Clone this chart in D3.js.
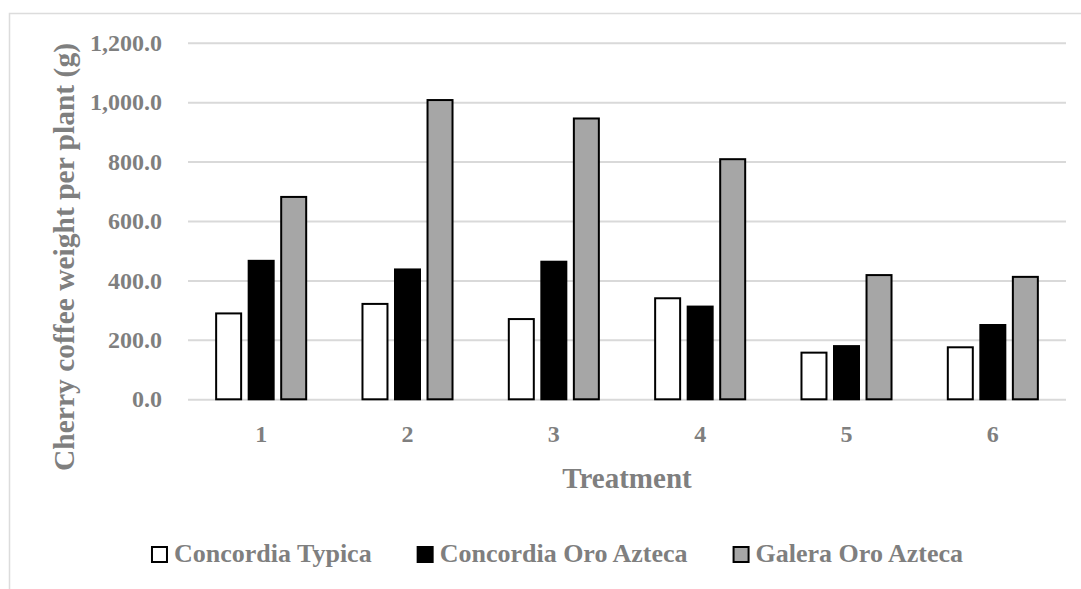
<!DOCTYPE html>
<html>
<head>
<meta charset="utf-8">
<script src="https://cdn.jsdelivr.net/npm/d3@7"></script>
<style>
  html, body { margin: 0; padding: 0; background: #fff; }
  svg { display: block; }
  text { font-family: "Liberation Serif", "Times New Roman", serif; font-weight: bold; fill: #7f7f7f; }
</style>
</head>
<body>
<svg id="chart" width="1081" height="589"></svg>
<script>
// Cherry coffee weight per plant (g) by treatment
const treatments = ["1", "2", "3", "4", "5", "6"];
const seriesNames = ["Concordia Typica", "Concordia Oro Azteca", "Galera Oro Azteca"];
const concordiaTypica = [289, 321, 270, 340, 157, 175];
const concordiaOroAzteca = [466, 437, 463, 312, 179, 250];
const galeraOroAzteca = [681, 1007, 945, 808, 418, 412];
const yTicks = [0, 200, 400, 600, 800, 1000, 1200];
const seriesFills = ["#ffffff", "#000000", "#a6a6a6"];

const seriesValues = [concordiaTypica, concordiaOroAzteca, galeraOroAzteca];

const svg = d3.select("#chart");
const W = 1081, H = 589;
const plot = { left: 188, right: 1066, top: 42.7, bottom: 399.3 };

// outer chart-area frame (runs past the right and bottom edges)
svg.append("rect")
  .attr("x", 9.5).attr("y", 13.5)
  .attr("width", W + 20).attr("height", H + 20)
  .attr("fill", "none").attr("stroke", "#dcdcdc").attr("stroke-width", 1.5);

const x0 = d3.scaleBand()
  .domain(treatments)
  .range([plot.left, plot.right])
  .paddingInner(0.371)
  .paddingOuter(0.1855);

const x1 = d3.scaleBand()
  .domain(d3.range(seriesNames.length))
  .range([0, x0.bandwidth()])
  .paddingInner(0.17)
  .paddingOuter(0);

const y = d3.scaleLinear().domain([0, 1200]).range([plot.bottom, plot.top]);

// gridlines and tick labels
const yAxis = d3.axisLeft(y)
  .tickValues(yTicks)
  .tickSize(-(plot.right - plot.left))
  .tickPadding(26)
  .tickFormat(d3.format(",.1f"));

const gy = svg.append("g")
  .attr("transform", `translate(${plot.left},0)`)
  .call(yAxis);
gy.select(".domain").remove();
gy.selectAll(".tick line").attr("stroke", "#d9d9d9").attr("stroke-width", 2);
gy.selectAll(".tick text")
  .attr("font-size", 24)
  .attr("fill", "#7f7f7f")
  .style("font-family", "'Liberation Serif', serif")
  .style("font-weight", "bold");

// category labels
const xAxis = d3.axisBottom(x0).tickSize(0).tickPadding(0);
const gx = svg.append("g")
  .attr("transform", `translate(0,${plot.bottom})`)
  .call(xAxis);
gx.select(".domain").remove();
gx.selectAll(".tick text")
  .attr("font-size", 24)
  .attr("dy", null)
  .attr("y", 43)
  .attr("fill", "#7f7f7f")
  .style("font-family", "'Liberation Serif', serif")
  .style("font-weight", "bold");

// bars
const groups = svg.append("g").selectAll("g")
  .data(treatments)
  .join("g")
  .attr("transform", d => `translate(${x0(d)},0)`);

groups.selectAll("rect")
  .data((d, i) => seriesValues.map((vals, s) => ({ s, v: vals[i] })))
  .join("rect")
  .attr("x", d => x1(d.s) + 1)
  .attr("width", x1.bandwidth() - 2)
  .attr("y", d => y(d.v))
  .attr("height", d => y(0) - y(d.v))
  .attr("fill", d => seriesFills[d.s])
  .attr("stroke", "#000")
  .attr("stroke-width", 2);

// axis titles
svg.append("text")
  .attr("transform", "translate(74,257) rotate(-90)")
  .attr("text-anchor", "middle")
  .attr("font-size", 29.5)
  .text("Cherry coffee weight per plant (g)");

svg.append("text")
  .attr("x", (plot.left + plot.right) / 2)
  .attr("y", 488)
  .attr("text-anchor", "middle")
  .attr("font-size", 29)
  .text("Treatment");

// legend
const legend = svg.append("g");
const items = legend.selectAll("g")
  .data(seriesNames)
  .join("g");
items.append("rect")
  .attr("width", 15).attr("height", 15)
  .attr("y", 547)
  .attr("fill", (d, i) => seriesFills[i])
  .attr("stroke", "#000")
  .attr("stroke-width", 2);
items.append("text")
  .attr("x", 22)
  .attr("y", 562)
  .attr("font-size", 26)
  .text(d => d);

const gap = 46;
let widths = [];
items.each(function () {
  widths.push(22 + d3.select(this).select("text").node().getComputedTextLength());
});
const total = d3.sum(widths) + gap * (widths.length - 1);
let cx = 557.5 - total / 2;
items.each(function (d, i) {
  d3.select(this).attr("transform", `translate(${cx},0)`);
  cx += widths[i] + gap;
});
</script>
</body>
</html>
